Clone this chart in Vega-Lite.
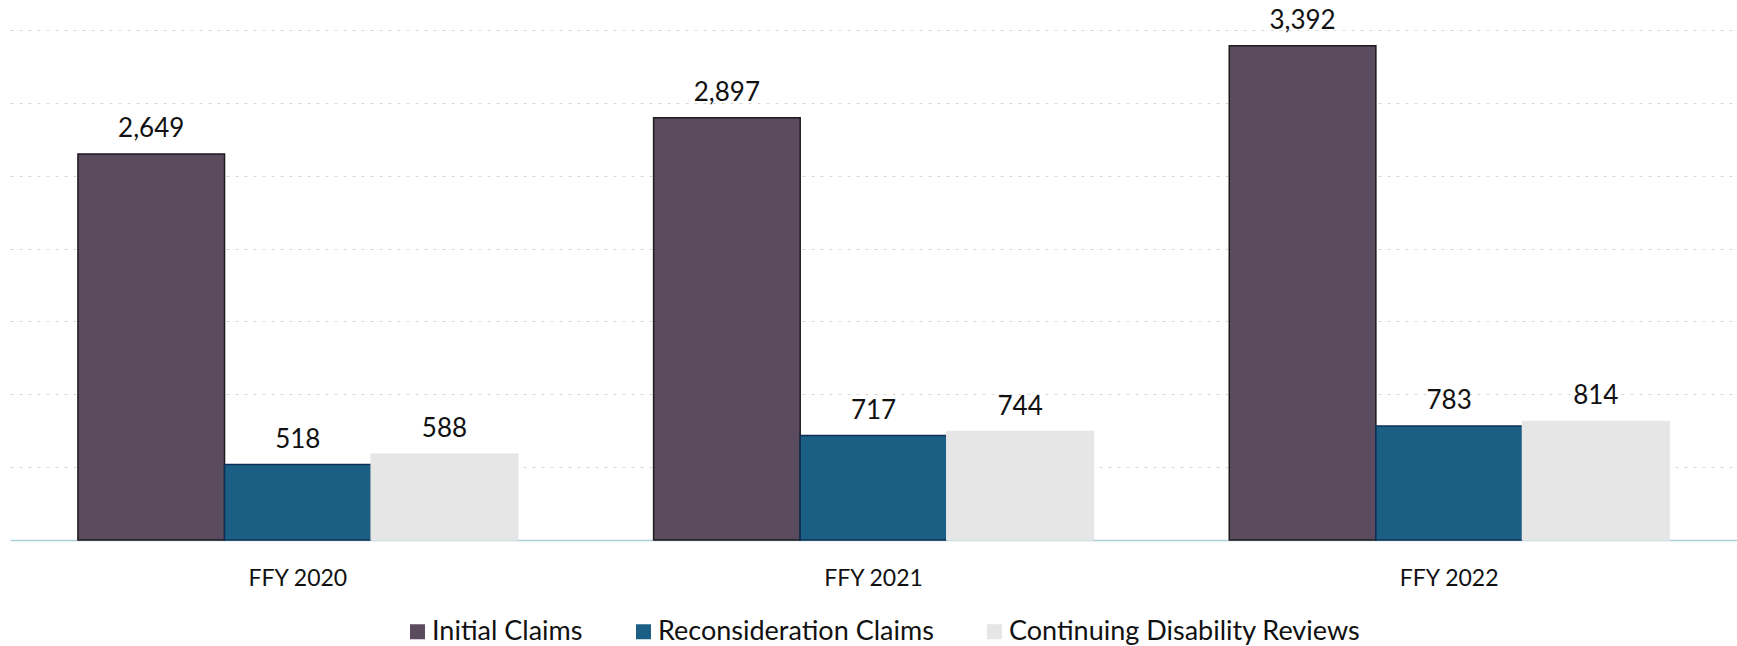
{
  "$schema": "https://vega.github.io/schema/vega-lite/v6.json",
  "width": 1727,
  "height": 510,
  "padding": {"left": 10, "top": 7, "right": 0, "bottom": 0},
  "autosize": {"type": "pad"},
  "background": "white",
  "config": {
    "view": {"stroke": null},
    "font": "Lato"
  },
  "data": {
    "values": [
      {"year": "FFY 2020", "series": "Initial Claims", "value": 2649},
      {"year": "FFY 2020", "series": "Reconsideration Claims", "value": 518},
      {"year": "FFY 2020", "series": "Continuing Disability Reviews", "value": 588},
      {"year": "FFY 2021", "series": "Initial Claims", "value": 2897},
      {"year": "FFY 2021", "series": "Reconsideration Claims", "value": 717},
      {"year": "FFY 2021", "series": "Continuing Disability Reviews", "value": 744},
      {"year": "FFY 2022", "series": "Initial Claims", "value": 3392},
      {"year": "FFY 2022", "series": "Reconsideration Claims", "value": 783},
      {"year": "FFY 2022", "series": "Continuing Disability Reviews", "value": 814}
    ]
  },
  "encoding": {
    "x": {
      "field": "year",
      "type": "nominal",
      "scale": {"paddingInner": 0.236, "paddingOuter": 0.118},
      "axis": {
        "title": null,
        "labelAngle": 0,
        "labelFontSize": 23,
        "labelColor": "#111111",
        "labelPadding": 27,
        "ticks": false,
        "domain": true,
        "domainColor": "#a9cfd8",
        "domainWidth": 1.5
      }
    },
    "xOffset": {
      "field": "series",
      "type": "nominal",
      "sort": ["Initial Claims", "Reconsideration Claims", "Continuing Disability Reviews"],
      "scale": {"paddingInner": 0, "paddingOuter": 0}
    },
    "y": {
      "field": "value",
      "type": "quantitative",
      "scale": {"domain": [0, 3500], "nice": false},
      "axis": {
        "title": null,
        "labels": false,
        "ticks": false,
        "domain": false,
        "grid": true,
        "values": [500, 1000, 1500, 2000, 2500, 3000, 3500],
        "gridColor": "#d8d8d8",
        "gridDash": [3, 6],
        "gridWidth": 1
      }
    }
  },
  "layer": [
    {
      "mark": {"type": "bar", "strokeWidth": 1.5},
      "encoding": {
        "color": {
          "field": "series",
          "type": "nominal",
          "sort": ["Initial Claims", "Reconsideration Claims", "Continuing Disability Reviews"],
          "scale": {
            "domain": ["Initial Claims", "Reconsideration Claims", "Continuing Disability Reviews"],
            "range": ["#5b4b5e", "#1c5f84", "#e6e6e6"]
          },
          "legend": {
            "title": null,
            "orient": "none",
            "direction": "horizontal",
            "legendX": 394,
            "legendY": 588,
            "symbolType": "square",
            "symbolSize": 225,
            "symbolStrokeWidth": 0,
            "labelFontSize": 27,
            "labelLimit": 0,
            "labelColor": "#111111",
            "labelOffset": 1,
            "columnPadding": 47
          }
        },
        "stroke": {
          "field": "series",
          "type": "nominal",
          "scale": {
            "domain": ["Initial Claims", "Reconsideration Claims", "Continuing Disability Reviews"],
            "range": ["#1e1a1e", "#0d2f55", "#e6e6e6"]
          },
          "legend": null
        }
      }
    },
    {
      "mark": {"type": "text", "fontSize": 26, "color": "#111111", "baseline": "alphabetic", "dy": -17},
      "encoding": {
        "text": {"field": "value", "type": "quantitative", "format": ","}
      }
    }
  ]
}
